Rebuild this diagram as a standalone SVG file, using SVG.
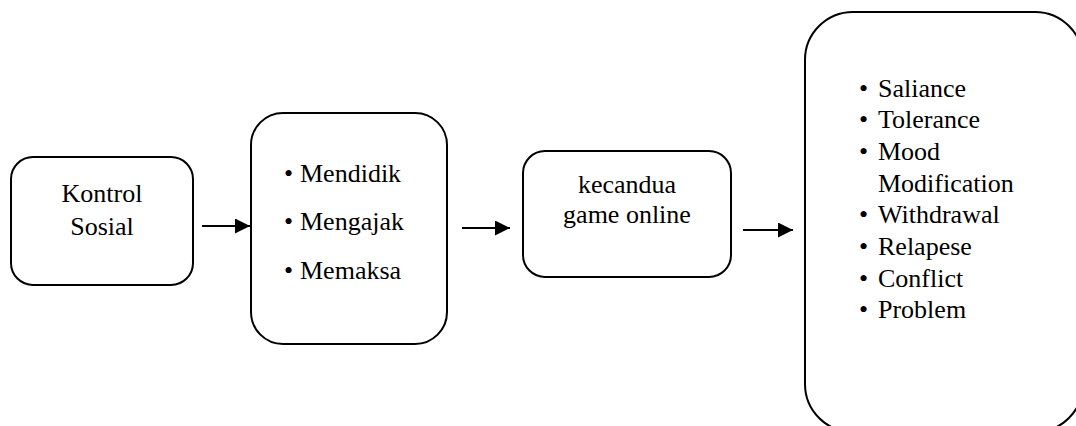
<svg xmlns="http://www.w3.org/2000/svg" width="1076" height="426" viewBox="0 0 1076 426">
<style>
.box{fill:#fff;stroke:#000;stroke-width:2}
.t{font-family:"Liberation Serif","Times New Roman",serif;font-size:26px;fill:#000}
.c{text-anchor:middle}
.ln{stroke:#000;stroke-width:2.2;fill:none}
</style>
<defs>
<marker id="ah" viewBox="0 0 15 15" refX="15" refY="7.5" markerWidth="15" markerHeight="15" markerUnits="userSpaceOnUse" orient="auto">
<path d="M0,0 L15,7.5 L0,15 Z" fill="#000"/>
</marker>
</defs>
<rect width="1076" height="426" fill="#fff"/>
<g id="node-kontrol">
<rect class="box" x="11" y="157" width="182" height="128" rx="22"/>
<text class="t c" x="102" y="202">Kontrol</text>
<text class="t c" x="102" y="235">Sosial</text>
</g>
<g id="node-cara">
<rect class="box" x="251" y="113" width="196" height="231" rx="32"/>
<text class="t" x="284" y="182">•<tspan x="300">Mendidik</tspan></text>
<text class="t" x="284" y="230">•<tspan x="300">Mengajak</tspan></text>
<text class="t" x="284" y="279">•<tspan x="300">Memaksa</tspan></text>
</g>
<g id="node-kecandua">
<rect class="box" x="523" y="151" width="208" height="126" rx="22"/>
<text class="t c" x="627" y="193">kecandua</text>
<text class="t c" x="627" y="223">game online</text>
</g>
<g id="node-gejala">
<rect class="box" x="805" y="12" width="278" height="420" rx="48"/>
<text class="t" x="859" y="97">•<tspan x="878">Saliance</tspan></text>
<text class="t" x="859" y="128">•<tspan x="878">Tolerance</tspan></text>
<text class="t" x="859" y="160">•<tspan x="878">Mood</tspan></text>
<text class="t" x="878" y="192">Modification</text>
<text class="t" x="859" y="223">•<tspan x="878">Withdrawal</tspan></text>
<text class="t" x="859" y="255">•<tspan x="878">Relapese</tspan></text>
<text class="t" x="859" y="287">•<tspan x="878">Conflict</tspan></text>
<text class="t" x="859" y="318">•<tspan x="878">Problem</tspan></text>
</g>
<g id="connectors">
<line class="ln" x1="202" y1="226" x2="250" y2="226" marker-end="url(#ah)"/>
<line class="ln" x1="462" y1="228" x2="510" y2="228" marker-end="url(#ah)"/>
<line class="ln" x1="743" y1="230" x2="793" y2="230" marker-end="url(#ah)"/>
</g>
</svg>
